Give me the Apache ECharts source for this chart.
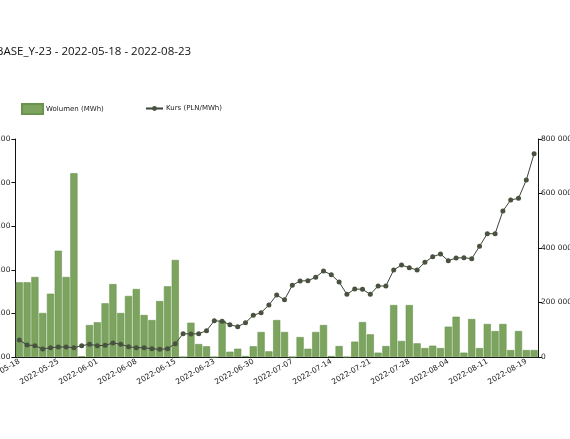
<!DOCTYPE html>
<html>
<head>
<meta charset="utf-8">
<script src="https://cdn.jsdelivr.net/npm/echarts@6/dist/echarts.min.js"></script>
<style>
html,body{margin:0;padding:0;background:#fff;}
#c{width:570px;height:439px;}
</style>
</head>
<body>
<div id="c"></div>
<script>
const titleText = 'BASE_Y-23 - 2022-05-18 - 2022-08-23';
const volumeName = 'Wolumen (MWh)';
const priceName = 'Kurs (PLN/MWh)';

const dates = [
  '2022-05-18','2022-05-19','2022-05-20','2022-05-23','2022-05-24','2022-05-25','2022-05-26','2022-05-27','2022-05-30','2022-05-31',
  '2022-06-01','2022-06-02','2022-06-03','2022-06-06','2022-06-07','2022-06-08','2022-06-09','2022-06-10','2022-06-13','2022-06-14',
  '2022-06-15','2022-06-17','2022-06-20','2022-06-21','2022-06-22','2022-06-23','2022-06-24','2022-06-27','2022-06-28','2022-06-29',
  '2022-06-30','2022-07-01','2022-07-04','2022-07-05','2022-07-06','2022-07-07','2022-07-08','2022-07-11','2022-07-12','2022-07-13',
  '2022-07-14','2022-07-15','2022-07-18','2022-07-19','2022-07-20','2022-07-21','2022-07-22','2022-07-25','2022-07-26','2022-07-27',
  '2022-07-28','2022-07-29','2022-08-01','2022-08-02','2022-08-03','2022-08-04','2022-08-05','2022-08-08','2022-08-09','2022-08-10',
  '2022-08-11','2022-08-12','2022-08-16','2022-08-17','2022-08-18','2022-08-19','2022-08-22'
];

const volume = [
  857, 857, 918, 505, 726, 1219, 918, 2107, 8, 367,
  398, 616, 837, 505, 700, 780, 482, 424, 642, 811,
  1113, 0, 393, 149, 123, 0, 416, 61, 95, 11,
  123, 287, 65, 424, 287, 0, 229, 95, 287, 367,
  11, 126, 0, 176, 401, 260, 50, 126, 596, 184,
  596, 157, 103, 130, 103, 348, 462, 50, 436, 103,
  379, 298, 379, 80, 298, 80, 80
];

const price = [
  62000, 44000, 41500, 29400, 34100, 36700, 36700, 34100, 41500, 46600,
  41500, 42900, 51400, 46600, 37800, 34100, 34100, 30500, 28300, 30500,
  48800, 85500, 84400, 85500, 96500, 133200, 131000, 118500, 111200, 125900,
  153000, 162600, 190800, 227500, 210300, 263100, 278900, 280000, 292500, 315600,
  302000, 275200, 230100, 249500, 248400, 230100, 260500, 260500, 319300, 337600,
  327700, 319300, 347500, 368100, 378000, 353400, 363300, 364400, 360700, 406200,
  452500, 452500, 535800, 576100, 582400, 649500, 746100
];

const leftTicks = { min: 0, max: 2500, interval: 500 };
const rightTicks = { min: 0, max: 800000, interval: 200000 };

const chart = echarts.init(document.getElementById('c'), null, { renderer: 'canvas' });
const axisFont = 'DejaVu Sans';
function spaced(v) {
  return String(Math.round(v)).replace(/\B(?=(\d{3})+(?!\d))/g, ' ');
}
chart.setOption({
  animation: false,
  backgroundColor: '#ffffff',
  title: {
    text: titleText,
    left: -9,
    top: 41,
    textStyle: { fontFamily: 'Open Sans', fontSize: 11.5, fontWeight: 'normal', color: '#111' }
  },
  legend: [
    {
      data: [{ name: volumeName, icon: 'rect' }],
      left: 16, top: 98,
      itemWidth: 21, itemHeight: 10,
      itemGap: 5,
      textStyle: { fontFamily: axisFont, fontSize: 7, color: '#222', padding: [0, 0, 0, -2] }
    },
    {
      data: [priceName],
      left: 140, top: 100,
      itemWidth: 17, itemHeight: 6,
      textStyle: { fontFamily: axisFont, fontSize: 7, color: '#222', padding: [0, 0, 0, -2] }
    }
  ],
  grid: { left: 15.4, right: 32, top: 139, bottom: 82, containLabel: false, outerBoundsMode: 'none' },
  xAxis: {
    type: 'category',
    data: dates,
    boundaryGap: true,
    axisLine: { lineStyle: { color: '#111', width: 1 } },
    axisTick: { alignWithLabel: true, interval: 4, length: 4, lineStyle: { color: '#111' } },
    axisLabel: { interval: 4, rotate: 30, margin: 4, fontFamily: axisFont, fontSize: 7.5, color: '#222', hideOverlap: false },
    splitLine: { show: false }
  },
  yAxis: [
    {
      type: 'value',
      min: leftTicks.min, max: leftTicks.max, interval: leftTicks.interval,
      position: 'left',
      axisLine: { show: true, lineStyle: { color: '#111', width: 1 } },
      axisTick: { show: true, length: 4, lineStyle: { color: '#111' } },
      axisLabel: { margin: 5, fontFamily: axisFont, fontSize: 7.5, color: '#222', formatter: v => v.toFixed(2) },
      splitLine: { show: false }
    },
    {
      type: 'value',
      min: rightTicks.min, max: rightTicks.max, interval: rightTicks.interval,
      position: 'right',
      axisLine: { show: true, lineStyle: { color: '#111', width: 1 } },
      axisTick: { show: true, length: 4, lineStyle: { color: '#111' } },
      axisLabel: { margin: 3, fontFamily: axisFont, fontSize: 7.5, color: '#222', formatter: spaced },
      splitLine: { show: false }
    }
  ],
  series: [
    {
      name: volumeName,
      type: 'bar',
      yAxisIndex: 0,
      data: volume,
      barCategoryGap: '8%',
      itemStyle: { color: '#7ca45f', borderColor: '#6a9350', borderWidth: 0.6 }
    },
    {
      name: priceName,
      type: 'line',
      yAxisIndex: 1,
      data: price,
      symbol: 'circle',
      symbolSize: 5,
      showAllSymbol: true,
      lineStyle: { color: '#3b4538', width: 1 },
      itemStyle: { color: '#48523f' },
      z: 5
    }
  ]
});
</script>
</body>
</html>
